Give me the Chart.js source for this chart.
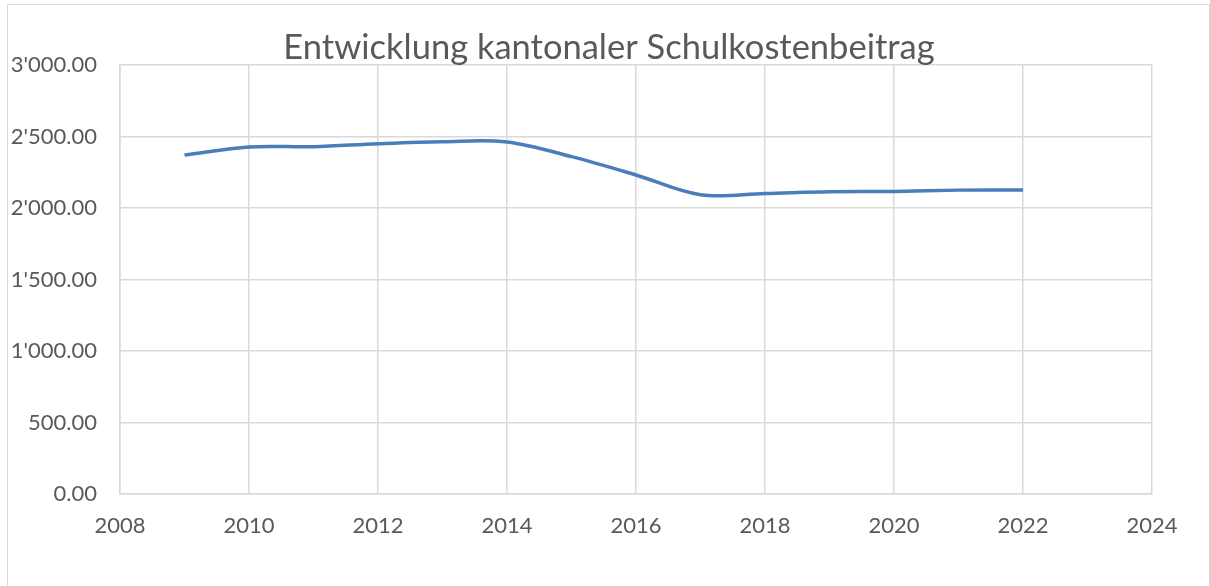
<!DOCTYPE html>
<html>
<head>
<meta charset="utf-8">
<script src="https://cdn.jsdelivr.net/npm/chart.js@4/dist/chart.umd.min.js"></script>
<style>
  html, body { margin: 0; padding: 0; background: #fff; overflow: hidden; }
  #frame { position: absolute; left: 7px; top: 4px; width: 1201px; height: 640px; border: 1px solid #d9d9d9; }
  #wrap { position: absolute; left: 0; top: 0; width: 1210px; height: 586px; }
</style>
</head>
<body>
<div id="frame"></div>
<div id="wrap"><canvas id="chart"></canvas></div>
<script>
// Entwicklung kantonaler Schulkostenbeitrag (Excel-style smoothed line)

var chartTitle = 'Entwicklung kantonaler Schulkostenbeitrag';
var years = [2009, 2010, 2011, 2012, 2013, 2014, 2015, 2016, 2017, 2018, 2019, 2020, 2021, 2022];
var beitrag = [2371, 2427, 2429, 2450, 2464, 2462, 2359, 2231, 2093, 2102, 2114, 2116, 2125, 2126];
var xTicks = [2008, 2010, 2012, 2014, 2016, 2018, 2020, 2022, 2024];
var yTicks = [0, 500, 1000, 1500, 2000, 2500, 3000];

var textColor = '#595959';
var gridColor = '#d9d9d9';
var fontFamily = 'Lato, "Noto Sans", sans-serif';

// 1'234.00 style formatting
function fmtCHF(v) {
  var parts = Number(v).toFixed(2).split('.');
  parts[0] = parts[0].replace(/\B(?=(\d{3})+(?!\d))/g, "'");
  return parts.join('.');
}

var points = years.map(function (y, i) { return { x: y, y: beitrag[i] }; });

// Title drawn centered over the whole chart like Excel does
var titlePlugin = {
  id: 'excelTitle',
  afterDraw: function (chart) {
    var ctx = chart.ctx;
    ctx.save();
    ctx.fillStyle = textColor;
    ctx.font = '34.5px ' + fontFamily;
    ctx.textAlign = 'center';
    ctx.textBaseline = 'middle';
    ctx.fillText(chartTitle, 609, 48);
    ctx.restore();
  }
};

new Chart(document.getElementById('chart').getContext('2d'), {
  type: 'line',
  data: {
    datasets: [{
      data: points,
      borderColor: '#4a7ebb',
      borderWidth: 3.5,
      pointRadius: 0,
      fill: false,
      tension: 0.35
    }]
  },
  options: {
    responsive: true,
    maintainAspectRatio: false,
    animation: false,
    layout: { padding: { top: 65, right: 58, bottom: 0, left: 0 } },
    plugins: {
      legend: { display: false },
      title: { display: false },
      tooltip: { enabled: false }
    },
    scales: {
      x: {
        type: 'linear',
        min: xTicks[0],
        max: xTicks[xTicks.length - 1],
        afterBuildTicks: function (s) { s.ticks = xTicks.map(function (v) { return { value: v }; }); },
        afterFit: function (s) { s.height = 92; },
        ticks: {
          color: textColor,
          font: { family: fontFamily, size: 22 },
          padding: 19,
          maxRotation: 0,
          callback: function (v) { return String(v); }
        },
        grid: { color: gridColor, lineWidth: 1.5, drawTicks: false },
        border: { color: gridColor, width: 1.5 }
      },
      y: {
        min: yTicks[0],
        max: yTicks[yTicks.length - 1],
        afterBuildTicks: function (s) { s.ticks = yTicks.map(function (v) { return { value: v }; }); },
        afterFit: function (s) { s.width = 120; },
        ticks: {
          color: textColor,
          font: { family: fontFamily, size: 22 },
          padding: 23,
          callback: function (v) { return fmtCHF(v); }
        },
        grid: { color: gridColor, lineWidth: 1.5, drawTicks: false },
        border: { color: gridColor, width: 1.5 }
      }
    }
  },
  plugins: [titlePlugin]
});
</script>
</body>
</html>
